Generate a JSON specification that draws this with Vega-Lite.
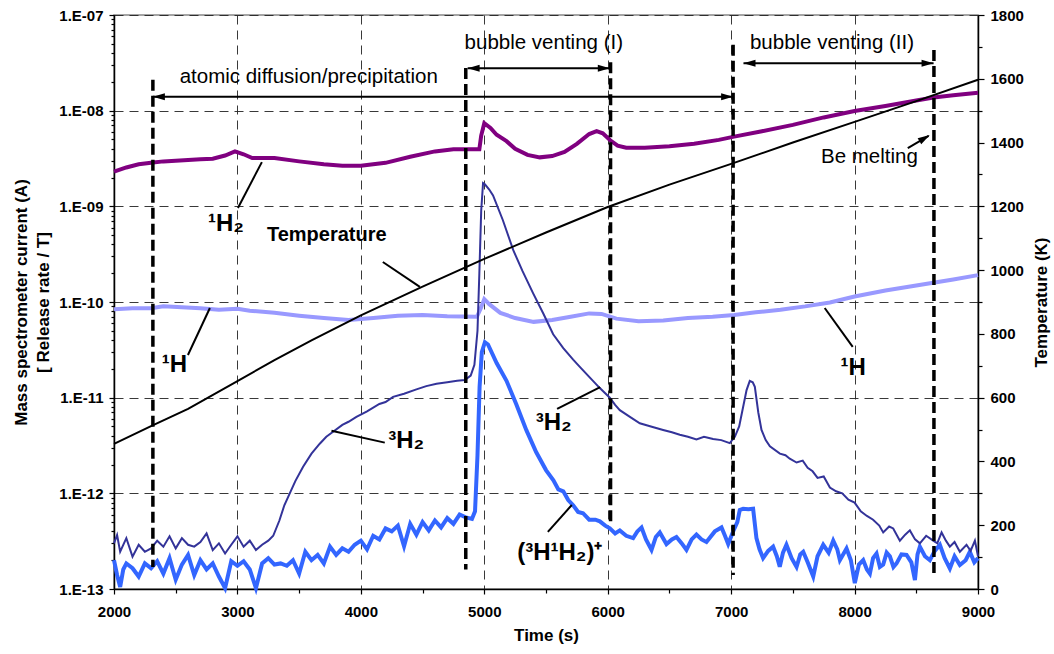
{
  "$schema": "https://vega.github.io/schema/vega-lite/v6.json",
  "width": 864,
  "height": 574,
  "autosize": "none",
  "padding": {"left": 114, "top": 15, "right": 76, "bottom": 65},
  "background": "white",
  "config": {
    "view": {"stroke": "#888888", "strokeWidth": 1.5},
    "font": "Liberation Sans",
    "axis": {
      "labelFont": "Liberation Sans", "labelFontWeight": "bold", "labelFontSize": 15, "labelColor": "#000000",
      "titleFont": "Liberation Sans", "titleFontWeight": "bold", "titleFontSize": 17, "titleColor": "#000000",
      "domainColor": "#000000", "domainWidth": 1.5, "tickColor": "#000000", "tickWidth": 1.2,
      "gridColor": "#222222", "gridDash": [9, 6], "gridWidth": 0.9
    }
  },
  "datasets": {
    "curves": [
      {"s":"H2","t":2000,"v":2.3e-9},{"s":"H2","t":2100,"v":2.55e-9},{"s":"H2","t":2200,"v":2.75e-9},{"s":"H2","t":2300,"v":2.85e-9},{"s":"H2","t":2400,"v":2.95e-9},{"s":"H2","t":2500,"v":3.0e-9},{"s":"H2","t":2600,"v":3.05e-9},{"s":"H2","t":2700,"v":3.1e-9},{"s":"H2","t":2800,"v":3.15e-9},{"s":"H2","t":2900,"v":3.4e-9},{"s":"H2","t":2980,"v":3.75e-9},{"s":"H2","t":3050,"v":3.5e-9},{"s":"H2","t":3120,"v":3.2e-9},{"s":"H2","t":3300,"v":3.2e-9},{"s":"H2","t":3500,"v":2.95e-9},{"s":"H2","t":3700,"v":2.75e-9},{"s":"H2","t":3850,"v":2.65e-9},{"s":"H2","t":4000,"v":2.65e-9},{"s":"H2","t":4200,"v":2.85e-9},{"s":"H2","t":4400,"v":3.3e-9},{"s":"H2","t":4600,"v":3.75e-9},{"s":"H2","t":4750,"v":3.95e-9},{"s":"H2","t":4960,"v":3.95e-9},{"s":"H2","t":4975,"v":5.5e-9},{"s":"H2","t":5000,"v":7.4e-9},{"s":"H2","t":5050,"v":6.6e-9},{"s":"H2","t":5100,"v":5.6e-9},{"s":"H2","t":5180,"v":4.8e-9},{"s":"H2","t":5250,"v":4.0e-9},{"s":"H2","t":5350,"v":3.45e-9},{"s":"H2","t":5450,"v":3.25e-9},{"s":"H2","t":5550,"v":3.35e-9},{"s":"H2","t":5650,"v":3.7e-9},{"s":"H2","t":5750,"v":4.5e-9},{"s":"H2","t":5850,"v":5.7e-9},{"s":"H2","t":5910,"v":6.1e-9},{"s":"H2","t":5960,"v":5.8e-9},{"s":"H2","t":6020,"v":4.9e-9},{"s":"H2","t":6080,"v":4.3e-9},{"s":"H2","t":6150,"v":4.1e-9},{"s":"H2","t":6300,"v":4.1e-9},{"s":"H2","t":6500,"v":4.25e-9},{"s":"H2","t":6700,"v":4.5e-9},{"s":"H2","t":6900,"v":4.95e-9},{"s":"H2","t":7024,"v":5.35e-9},{"s":"H2","t":7250,"v":6.1e-9},{"s":"H2","t":7500,"v":7.1e-9},{"s":"H2","t":7750,"v":8.5e-9},{"s":"H2","t":8000,"v":9.9e-9},{"s":"H2","t":8250,"v":1.12e-8},{"s":"H2","t":8500,"v":1.28e-8},{"s":"H2","t":8640,"v":1.37e-8},{"s":"H2","t":8800,"v":1.45e-8},{"s":"H2","t":9000,"v":1.54e-8},

      {"s":"H","t":2000,"v":8.4e-11},{"s":"H","t":2150,"v":8.6e-11},{"s":"H","t":2300,"v":8.6e-11},{"s":"H","t":2400,"v":9.0e-11},{"s":"H","t":2550,"v":8.8e-11},{"s":"H","t":2700,"v":8.6e-11},{"s":"H","t":2850,"v":8.3e-11},{"s":"H","t":3000,"v":8.5e-11},{"s":"H","t":3100,"v":8.1e-11},{"s":"H","t":3300,"v":7.7e-11},{"s":"H","t":3500,"v":7.2e-11},{"s":"H","t":3700,"v":6.8e-11},{"s":"H","t":3900,"v":6.5e-11},{"s":"H","t":4100,"v":6.8e-11},{"s":"H","t":4300,"v":7.2e-11},{"s":"H","t":4500,"v":7.3e-11},{"s":"H","t":4700,"v":7.1e-11},{"s":"H","t":4940,"v":7.0e-11},{"s":"H","t":4970,"v":8.5e-11},{"s":"H","t":5000,"v":1.07e-10},{"s":"H","t":5040,"v":9.5e-11},{"s":"H","t":5130,"v":7.7e-11},{"s":"H","t":5250,"v":6.8e-11},{"s":"H","t":5400,"v":6.2e-11},{"s":"H","t":5550,"v":6.5e-11},{"s":"H","t":5700,"v":7.0e-11},{"s":"H","t":5850,"v":7.6e-11},{"s":"H","t":5950,"v":7.5e-11},{"s":"H","t":6070,"v":6.7e-11},{"s":"H","t":6250,"v":6.3e-11},{"s":"H","t":6450,"v":6.4e-11},{"s":"H","t":6650,"v":6.8e-11},{"s":"H","t":6850,"v":7.0e-11},{"s":"H","t":7024,"v":7.3e-11},{"s":"H","t":7200,"v":7.8e-11},{"s":"H","t":7400,"v":8.3e-11},{"s":"H","t":7600,"v":9.0e-11},{"s":"H","t":7800,"v":9.9e-11},{"s":"H","t":8000,"v":1.14e-10},{"s":"H","t":8250,"v":1.32e-10},{"s":"H","t":8500,"v":1.49e-10},{"s":"H","t":8637,"v":1.59e-10},{"s":"H","t":8800,"v":1.72e-10},{"s":"H","t":9000,"v":1.91e-10},

      {"s":"T2","t":2000,"v":3.0e-13},{"s":"T2","t":2025,"v":3.67e-13},{"s":"T2","t":2050,"v":2.45e-13},{"s":"T2","t":2100,"v":3.4e-13},{"s":"T2","t":2150,"v":2.18e-13},{"s":"T2","t":2200,"v":2.9e-13},{"s":"T2","t":2250,"v":2.45e-13},{"s":"T2","t":2300,"v":2.66e-13},{"s":"T2","t":2350,"v":3.2e-13},{"s":"T2","t":2400,"v":2.77e-13},{"s":"T2","t":2450,"v":3.55e-13},{"s":"T2","t":2500,"v":2.66e-13},{"s":"T2","t":2550,"v":3.4e-13},{"s":"T2","t":2600,"v":2.9e-13},{"s":"T2","t":2650,"v":2.77e-13},{"s":"T2","t":2700,"v":3.1e-13},{"s":"T2","t":2750,"v":3.82e-13},{"s":"T2","t":2800,"v":2.55e-13},{"s":"T2","t":2850,"v":3.0e-13},{"s":"T2","t":2900,"v":2.35e-13},{"s":"T2","t":2950,"v":2.9e-13},{"s":"T2","t":3000,"v":3.55e-13},{"s":"T2","t":3050,"v":2.77e-13},{"s":"T2","t":3100,"v":3.2e-13},{"s":"T2","t":3150,"v":2.55e-13},{"s":"T2","t":3200,"v":2.9e-13},{"s":"T2","t":3250,"v":3.2e-13},{"s":"T2","t":3290,"v":3.6e-13},{"s":"T2","t":3340,"v":5.2e-13},{"s":"T2","t":3380,"v":7.5e-13},{"s":"T2","t":3424,"v":1.0e-12},{"s":"T2","t":3470,"v":1.35e-12},{"s":"T2","t":3532,"v":1.9e-12},{"s":"T2","t":3600,"v":2.6e-12},{"s":"T2","t":3667,"v":3.3e-12},{"s":"T2","t":3720,"v":3.9e-12},{"s":"T2","t":3775,"v":4.4e-12},{"s":"T2","t":3850,"v":5.2e-12},{"s":"T2","t":3900,"v":5.6e-12},{"s":"T2","t":3964,"v":6.3e-12},{"s":"T2","t":4050,"v":7.2e-12},{"s":"T2","t":4150,"v":8.6e-12},{"s":"T2","t":4200,"v":9.0e-12},{"s":"T2","t":4261,"v":1.02e-11},{"s":"T2","t":4350,"v":1.1e-11},{"s":"T2","t":4450,"v":1.22e-11},{"s":"T2","t":4530,"v":1.32e-11},{"s":"T2","t":4613,"v":1.4e-11},{"s":"T2","t":4700,"v":1.45e-11},{"s":"T2","t":4780,"v":1.5e-11},{"s":"T2","t":4842,"v":1.53e-11},{"s":"T2","t":4890,"v":1.7e-11},{"s":"T2","t":4920,"v":2.2e-11},{"s":"T2","t":4945,"v":5e-11},{"s":"T2","t":4960,"v":2.0e-10},{"s":"T2","t":4975,"v":9e-10},{"s":"T2","t":4990,"v":1.75e-9},{"s":"T2","t":5005,"v":1.7e-9},{"s":"T2","t":5040,"v":1.5e-9},{"s":"T2","t":5071,"v":1.3e-9},{"s":"T2","t":5150,"v":7.2e-10},{"s":"T2","t":5234,"v":3.5e-10},{"s":"T2","t":5310,"v":2.1e-10},{"s":"T2","t":5396,"v":1.23e-10},{"s":"T2","t":5480,"v":7.5e-11},{"s":"T2","t":5558,"v":4.6e-11},{"s":"T2","t":5640,"v":3.3e-11},{"s":"T2","t":5720,"v":2.5e-11},{"s":"T2","t":5774,"v":2.1e-11},{"s":"T2","t":5850,"v":1.65e-11},{"s":"T2","t":5936,"v":1.26e-11},{"s":"T2","t":6017,"v":1.0e-11},{"s":"T2","t":6060,"v":8.4e-12},{"s":"T2","t":6098,"v":7.4e-12},{"s":"T2","t":6180,"v":6.3e-12},{"s":"T2","t":6260,"v":5.4e-12},{"s":"T2","t":6350,"v":5.0e-12},{"s":"T2","t":6449,"v":4.6e-12},{"s":"T2","t":6520,"v":4.35e-12},{"s":"T2","t":6584,"v":4.1e-12},{"s":"T2","t":6650,"v":3.9e-12},{"s":"T2","t":6719,"v":3.65e-12},{"s":"T2","t":6780,"v":3.9e-12},{"s":"T2","t":6854,"v":3.7e-12},{"s":"T2","t":6920,"v":3.6e-12},{"s":"T2","t":6989,"v":3.35e-12},{"s":"T2","t":7030,"v":3.9e-12},{"s":"T2","t":7065,"v":5.0e-12},{"s":"T2","t":7097,"v":8.0e-12},{"s":"T2","t":7125,"v":1.2e-11},{"s":"T2","t":7151,"v":1.5e-11},{"s":"T2","t":7175,"v":1.45e-11},{"s":"T2","t":7192,"v":1.3e-11},{"s":"T2","t":7220,"v":7e-12},{"s":"T2","t":7246,"v":4.6e-12},{"s":"T2","t":7280,"v":3.6e-12},{"s":"T2","t":7314,"v":3.1e-12},{"s":"T2","t":7395,"v":2.6e-12},{"s":"T2","t":7440,"v":2.5e-12},{"s":"T2","t":7475,"v":2.3e-12},{"s":"T2","t":7530,"v":2.1e-12},{"s":"T2","t":7580,"v":2.2e-12},{"s":"T2","t":7620,"v":1.85e-12},{"s":"T2","t":7660,"v":1.7e-12},{"s":"T2","t":7700,"v":1.45e-12},{"s":"T2","t":7750,"v":1.5e-12},{"s":"T2","t":7800,"v":1.15e-12},{"s":"T2","t":7850,"v":1.05e-12},{"s":"T2","t":7900,"v":1.0e-12},{"s":"T2","t":7950,"v":8.6e-13},{"s":"T2","t":8000,"v":8.0e-13},{"s":"T2","t":8050,"v":6.5e-13},{"s":"T2","t":8100,"v":5.8e-13},{"s":"T2","t":8150,"v":5.3e-13},{"s":"T2","t":8200,"v":4.6e-13},{"s":"T2","t":8232,"v":3.9e-13},{"s":"T2","t":8280,"v":4.5e-13},{"s":"T2","t":8313,"v":4.3e-13},{"s":"T2","t":8367,"v":3.2e-13},{"s":"T2","t":8410,"v":3.7e-13},{"s":"T2","t":8448,"v":4.1e-13},{"s":"T2","t":8490,"v":3.3e-13},{"s":"T2","t":8529,"v":3.0e-13},{"s":"T2","t":8580,"v":3.6e-13},{"s":"T2","t":8637,"v":3.2e-13},{"s":"T2","t":8670,"v":3.0e-13},{"s":"T2","t":8705,"v":3.9e-13},{"s":"T2","t":8740,"v":3.2e-13},{"s":"T2","t":8772,"v":2.77e-13},{"s":"T2","t":8810,"v":3.1e-13},{"s":"T2","t":8853,"v":2.45e-13},{"s":"T2","t":8907,"v":2.9e-13},{"s":"T2","t":8940,"v":2.5e-13},{"s":"T2","t":8975,"v":3.2e-13},{"s":"T2","t":9000,"v":2.2e-13},

      {"s":"HT","t":2000,"v":2.0e-13},{"s":"HT","t":2025,"v":1.4e-13},{"s":"HT","t":2050,"v":1.05e-13},{"s":"HT","t":2075,"v":1.6e-13},{"s":"HT","t":2100,"v":1.85e-13},{"s":"HT","t":2150,"v":1.65e-13},{"s":"HT","t":2200,"v":1.35e-13},{"s":"HT","t":2250,"v":1.85e-13},{"s":"HT","t":2300,"v":1.65e-13},{"s":"HT","t":2350,"v":1.95e-13},{"s":"HT","t":2400,"v":1.45e-13},{"s":"HT","t":2450,"v":2.1e-13},{"s":"HT","t":2500,"v":1.25e-13},{"s":"HT","t":2550,"v":1.8e-13},{"s":"HT","t":2600,"v":2.27e-13},{"s":"HT","t":2650,"v":1.4e-13},{"s":"HT","t":2700,"v":2.0e-13},{"s":"HT","t":2750,"v":1.6e-13},{"s":"HT","t":2800,"v":1.85e-13},{"s":"HT","t":2850,"v":1.35e-13},{"s":"HT","t":2900,"v":1.02e-13},{"s":"HT","t":2950,"v":1.95e-13},{"s":"HT","t":3000,"v":1.75e-13},{"s":"HT","t":3050,"v":1.95e-13},{"s":"HT","t":3100,"v":1.6e-13},{"s":"HT","t":3150,"v":1.02e-13},{"s":"HT","t":3200,"v":1.85e-13},{"s":"HT","t":3250,"v":2.1e-13},{"s":"HT","t":3300,"v":1.8e-13},{"s":"HT","t":3350,"v":1.85e-13},{"s":"HT","t":3400,"v":1.75e-13},{"s":"HT","t":3450,"v":2.0e-13},{"s":"HT","t":3500,"v":1.45e-13},{"s":"HT","t":3550,"v":2.45e-13},{"s":"HT","t":3600,"v":2.0e-13},{"s":"HT","t":3650,"v":2.27e-13},{"s":"HT","t":3700,"v":1.85e-13},{"s":"HT","t":3750,"v":2.77e-13},{"s":"HT","t":3800,"v":2.27e-13},{"s":"HT","t":3850,"v":2.66e-13},{"s":"HT","t":3900,"v":2.45e-13},{"s":"HT","t":3950,"v":2.9e-13},{"s":"HT","t":4000,"v":3.2e-13},{"s":"HT","t":4050,"v":2.6e-13},{"s":"HT","t":4100,"v":3.6e-13},{"s":"HT","t":4150,"v":3.3e-13},{"s":"HT","t":4200,"v":4.3e-13},{"s":"HT","t":4250,"v":4.0e-13},{"s":"HT","t":4300,"v":4.6e-13},{"s":"HT","t":4350,"v":2.8e-13},{"s":"HT","t":4400,"v":4.8e-13},{"s":"HT","t":4450,"v":3.7e-13},{"s":"HT","t":4500,"v":5.0e-13},{"s":"HT","t":4550,"v":4.1e-13},{"s":"HT","t":4600,"v":5.2e-13},{"s":"HT","t":4650,"v":4.4e-13},{"s":"HT","t":4700,"v":5.5e-13},{"s":"HT","t":4750,"v":4.8e-13},{"s":"HT","t":4800,"v":6.0e-13},{"s":"HT","t":4850,"v":5.6e-13},{"s":"HT","t":4900,"v":5.4e-13},{"s":"HT","t":4925,"v":6.5e-13},{"s":"HT","t":4945,"v":2.5e-12},{"s":"HT","t":4962,"v":1.3e-11},{"s":"HT","t":4980,"v":3.0e-11},{"s":"HT","t":5005,"v":3.8e-11},{"s":"HT","t":5030,"v":3.6e-11},{"s":"HT","t":5100,"v":2.3e-11},{"s":"HT","t":5180,"v":1.5e-11},{"s":"HT","t":5260,"v":8.5e-12},{"s":"HT","t":5340,"v":4.6e-12},{"s":"HT","t":5420,"v":2.7e-12},{"s":"HT","t":5500,"v":1.75e-12},{"s":"HT","t":5560,"v":1.37e-12},{"s":"HT","t":5600,"v":1.1e-12},{"s":"HT","t":5640,"v":1.05e-12},{"s":"HT","t":5680,"v":8.5e-13},{"s":"HT","t":5720,"v":7.5e-13},{"s":"HT","t":5760,"v":6.4e-13},{"s":"HT","t":5800,"v":6.2e-13},{"s":"HT","t":5850,"v":5.3e-13},{"s":"HT","t":5900,"v":5.3e-13},{"s":"HT","t":5936,"v":5.1e-13},{"s":"HT","t":5980,"v":4.6e-13},{"s":"HT","t":6017,"v":4.3e-13},{"s":"HT","t":6060,"v":3.8e-13},{"s":"HT","t":6098,"v":4.1e-13},{"s":"HT","t":6150,"v":3.6e-13},{"s":"HT","t":6206,"v":3.4e-13},{"s":"HT","t":6240,"v":4.0e-13},{"s":"HT","t":6274,"v":4.4e-13},{"s":"HT","t":6310,"v":3.3e-13},{"s":"HT","t":6355,"v":2.56e-13},{"s":"HT","t":6390,"v":3.5e-13},{"s":"HT","t":6422,"v":3.9e-13},{"s":"HT","t":6476,"v":2.95e-13},{"s":"HT","t":6520,"v":3.3e-13},{"s":"HT","t":6557,"v":3.5e-13},{"s":"HT","t":6600,"v":3.0e-13},{"s":"HT","t":6638,"v":2.56e-13},{"s":"HT","t":6680,"v":3.3e-13},{"s":"HT","t":6719,"v":3.7e-13},{"s":"HT","t":6760,"v":3.3e-13},{"s":"HT","t":6800,"v":3.1e-13},{"s":"HT","t":6868,"v":4.0e-13},{"s":"HT","t":6922,"v":4.4e-13},{"s":"HT","t":6950,"v":3.6e-13},{"s":"HT","t":6976,"v":2.95e-13},{"s":"HT","t":7016,"v":4.0e-13},{"s":"HT","t":7050,"v":5.0e-13},{"s":"HT","t":7070,"v":6.7e-13},{"s":"HT","t":7097,"v":6.9e-13},{"s":"HT","t":7140,"v":6.8e-13},{"s":"HT","t":7178,"v":6.9e-13},{"s":"HT","t":7205,"v":3.4e-13},{"s":"HT","t":7230,"v":2.6e-13},{"s":"HT","t":7259,"v":2.1e-13},{"s":"HT","t":7300,"v":2.5e-13},{"s":"HT","t":7340,"v":2.77e-13},{"s":"HT","t":7370,"v":2.2e-13},{"s":"HT","t":7394,"v":1.71e-13},{"s":"HT","t":7420,"v":2.4e-13},{"s":"HT","t":7448,"v":2.9e-13},{"s":"HT","t":7490,"v":2.1e-13},{"s":"HT","t":7530,"v":1.7e-13},{"s":"HT","t":7560,"v":2.3e-13},{"s":"HT","t":7584,"v":2.45e-13},{"s":"HT","t":7620,"v":1.9e-13},{"s":"HT","t":7665,"v":1.35e-13},{"s":"HT","t":7700,"v":2.2e-13},{"s":"HT","t":7746,"v":2.9e-13},{"s":"HT","t":7790,"v":2.4e-13},{"s":"HT","t":7827,"v":3.2e-13},{"s":"HT","t":7860,"v":2.6e-13},{"s":"HT","t":7881,"v":2.0e-13},{"s":"HT","t":7935,"v":2.65e-13},{"s":"HT","t":7970,"v":2.0e-13},{"s":"HT","t":8002,"v":1.15e-13},{"s":"HT","t":8035,"v":1.8e-13},{"s":"HT","t":8070,"v":2.0e-13},{"s":"HT","t":8100,"v":1.6e-13},{"s":"HT","t":8124,"v":1.45e-13},{"s":"HT","t":8150,"v":2.1e-13},{"s":"HT","t":8178,"v":2.35e-13},{"s":"HT","t":8205,"v":1.7e-13},{"s":"HT","t":8232,"v":1.8e-13},{"s":"HT","t":8260,"v":2.4e-13},{"s":"HT","t":8286,"v":2.2e-13},{"s":"HT","t":8315,"v":1.7e-13},{"s":"HT","t":8340,"v":1.85e-13},{"s":"HT","t":8380,"v":2.3e-13},{"s":"HT","t":8421,"v":2.27e-13},{"s":"HT","t":8460,"v":1.9e-13},{"s":"HT","t":8489,"v":1.24e-13},{"s":"HT","t":8510,"v":2.3e-13},{"s":"HT","t":8529,"v":2.77e-13},{"s":"HT","t":8570,"v":2.2e-13},{"s":"HT","t":8610,"v":2.0e-13},{"s":"HT","t":8650,"v":2.5e-13},{"s":"HT","t":8691,"v":2.9e-13},{"s":"HT","t":8730,"v":2.1e-13},{"s":"HT","t":8772,"v":1.64e-13},{"s":"HT","t":8810,"v":2.2e-13},{"s":"HT","t":8853,"v":1.78e-13},{"s":"HT","t":8900,"v":2.0e-13},{"s":"HT","t":8934,"v":2.45e-13},{"s":"HT","t":8970,"v":1.9e-13},{"s":"HT","t":9000,"v":2.1e-13}
    ],
    "temp": [
      {"t":2000,"T":455},{"t":2300,"T":511},{"t":2600,"T":565},{"t":3000,"T":652},{"t":3300,"T":718},{"t":3600,"T":780},{"t":4000,"T":858},{"t":4500,"T":948},{"t":5000,"T":1035},{"t":5500,"T":1118},{"t":6000,"T":1198},{"t":6500,"T":1268},{"t":7000,"T":1333},{"t":7500,"T":1400},{"t":8000,"T":1465},{"t":8500,"T":1530},{"t":9000,"T":1597}
    ]
  },
  "encoding": {
    "x": {
      "field": "t", "type": "quantitative",
      "scale": {"domain": [2000, 9000], "nice": false, "zero": false},
      "axis": {
        "title": "Time (s)", "format": "d",
        "values": [2000,2500,3000,3500,4000,4500,5000,5500,6000,6500,7000,7500,8000,8500,9000],
        "labelExpr": "datum.value % 1000 === 0 ? datum.label : ''",
        "grid": true,
        "gridOpacity": {"condition": {"test": "datum.value % 1000 === 0", "value": 1}, "value": 0},
        "tickSize": {"condition": {"test": "datum.value % 1000 === 0", "value": 5}, "value": 4},
        "labelPadding": 10, "titlePadding": 8, "labelFlush": false
      }
    }
  },
  "layer": [
    {
      "encoding": {
        "y": {
          "field": "v", "type": "quantitative",
          "scale": {"type": "log", "domain": [1e-13, 1e-7], "nice": false},
          "axis": {
            "title": ["Mass spectrometer current (A)", "[ Release rate / T]"],
            "titleLineHeight": 22,
            "values": [1e-13,2e-13,3e-13,4e-13,5e-13,6e-13,7e-13,8e-13,9e-13,1e-12,2e-12,3e-12,4e-12,5e-12,6e-12,7e-12,8e-12,9e-12,1e-11,2e-11,3e-11,4e-11,5e-11,6e-11,7e-11,8e-11,9e-11,1e-10,2e-10,3e-10,4e-10,5e-10,6e-10,7e-10,8e-10,9e-10,1e-9,2e-9,3e-9,4e-9,5e-9,6e-9,7e-9,8e-9,9e-9,1e-8,2e-8,3e-8,4e-8,5e-8,6e-8,7e-8,8e-8,9e-8,1e-7],
            "labelExpr": "abs(log(datum.value)/LN10 - round(log(datum.value)/LN10)) < 0.001 ? '1.E-' + (round(-log(datum.value)/LN10) < 10 ? '0' : '') + round(-log(datum.value)/LN10) : ''",
            "grid": true,
            "gridOpacity": {"condition": {"test": "abs(log(datum.value)/LN10 - round(log(datum.value)/LN10)) < 0.001", "value": 1}, "value": 0},
            "tickSize": {"condition": {"test": "abs(log(datum.value)/LN10 - round(log(datum.value)/LN10)) < 0.001", "value": 5}, "value": 3},
            "labelPadding": 6, "titlePadding": 6
          }
        }
      },
      "layer": [
        {"data": {"name": "curves"}, "transform": [{"filter": "datum.s === 'H2'"}], "mark": {"type": "line", "color": "#800080", "strokeWidth": 4}},
        {"data": {"name": "curves"}, "transform": [{"filter": "datum.s === 'H'"}], "mark": {"type": "line", "color": "#9999FF", "strokeWidth": 4}},
        {"data": {"name": "curves"}, "transform": [{"filter": "datum.s === 'HT'"}], "mark": {"type": "line", "color": "#3366FF", "strokeWidth": 4}},
        {"data": {"name": "curves"}, "transform": [{"filter": "datum.s === 'T2'"}], "mark": {"type": "line", "color": "#333399", "strokeWidth": 2}},
        {
          "data": {"values": [{"t":2315,"v":2.1e-8,"v2":1.7e-13},{"t":4850,"v":2.8e-8,"v2":1.6e-13},{"t":6023,"v":3.2e-8,"v2":4.7e-13},{"t":7016,"v":4.9e-8,"v2":1.4e-13},{"t":8643,"v":4.3e-8,"v2":1.35e-13}]},
          "mark": {"type": "rule", "color": "#000000", "strokeWidth": 3.5, "strokeDash": [11, 5]},
          "encoding": {"y2": {"field": "v2"}}
        },
        {
          "data": {"values": [{"t":2315,"t2":7016,"v":1.4e-8,"v2":1.4e-8},{"t":4865,"t2":6017,"v":2.77e-8,"v2":2.77e-8},{"t":7100,"t2":8640,"v":3.13e-8,"v2":3.13e-8},
            {"t":3004,"t2":3198,"v":9.6e-10,"v2":2.9e-9},{"t":4178,"t2":4478,"v":2.62e-10,"v2":1.44e-10},{"t":2599,"t2":2777,"v":2.79e-11,"v2":8.65e-11},{"t":3762,"t2":4194,"v":4.52e-12,"v2":3.39e-12},{"t":5590,"t2":5939,"v":7.62e-12,"v2":1.29e-11},{"t":5515,"t2":5709,"v":3.95e-13,"v2":7.55e-13},{"t":7985,"t2":7758,"v":3.39e-11,"v2":8.65e-11},{"t":8431,"t2":8600,"v":4.07e-9,"v2":5.45e-9}]},
          "mark": {"type": "rule", "color": "#000000", "strokeWidth": 2},
          "encoding": {"x2": {"field": "t2"}, "y2": {"field": "v2"}}
        },
        {
          "data": {"values": [{"t":2315,"v":1.4e-8},{"t":4865,"v":2.77e-8},{"t":7100,"v":3.13e-8}]},
          "mark": {"type": "point", "shape": "M0,0 L2.4,-0.7 L2.4,0.7 Z", "filled": true, "color": "#000000", "size": 100, "opacity": 1}
        },
        {
          "data": {"values": [{"t":7016,"v":1.4e-8},{"t":6017,"v":2.77e-8},{"t":8640,"v":3.13e-8}]},
          "mark": {"type": "point", "shape": "M0,0 L-2.4,-0.7 L-2.4,0.7 Z", "filled": true, "color": "#000000", "size": 100, "opacity": 1}
        },
        {
          "data": {"values": [{"t":8609,"v":5.57e-9}]},
          "mark": {"type": "point", "shape": "M0,0 L-2.4,-0.7 L-2.4,0.7 Z", "filled": true, "color": "#000000", "size": 100, "opacity": 1, "angle": -31}
        },
        {
          "data": {"values": [{"t":3578,"v":2.25e-8,"label":"atomic diffusion/precipitation"},{"t":5482,"v":5.1e-8,"label":"bubble venting (I)"},{"t":7817,"v":5.1e-8,"label":"bubble venting (II)"},{"t":8120,"v":3.28e-9,"label":"Be melting"}]},
          "mark": {"type": "text", "font": "Liberation Sans", "fontSize": 20.5, "color": "#000000", "align": "center", "baseline": "middle"},
          "encoding": {"text": {"field": "label"}}
        },
        {
          "data": {"values": [{"t":2907,"v":6.5e-10,"label":"¹H₂"},{"t":2489,"v":2.22e-11,"label":"¹H"},{"t":4368,"v":3.52e-12,"label":"³H₂"},{"t":5563,"v":5.37e-12,"label":"³H₂"},{"t":5612,"v":2.38e-13,"label":"(³H¹H₂)⁺"},{"t":7989,"v":2.04e-11,"label":"¹H"}]},
          "mark": {"type": "text", "font": "Liberation Sans", "fontSize": 24, "fontWeight": "bold", "color": "#000000", "align": "center", "baseline": "middle"},
          "encoding": {"text": {"field": "label"}}
        },
        {
          "data": {"values": [{"t":3724,"v":5.0e-10,"label":"Temperature"}]},
          "mark": {"type": "text", "font": "Liberation Sans", "fontSize": 20, "fontWeight": "bold", "color": "#000000", "align": "center", "baseline": "middle"},
          "encoding": {"text": {"field": "label"}}
        }
      ]
    },
    {
      "data": {"name": "temp"},
      "mark": {"type": "line", "color": "#000000", "strokeWidth": 2},
      "encoding": {
        "y": {
          "field": "T", "type": "quantitative",
          "scale": {"domain": [0, 1800], "nice": false, "zero": true},
          "axis": {
            "orient": "right", "title": "Temperature (K)", "titleAngle": -90, "titleBaseline": "top", "format": "d",
            "values": [0,100,200,300,400,500,600,700,800,900,1000,1100,1200,1300,1400,1500,1600,1700,1800],
            "labelExpr": "datum.value % 200 === 0 ? datum.label : ''",
            "grid": false,
            "tickSize": {"condition": {"test": "datum.value % 200 === 0", "value": 6}, "value": 4},
            "labelPadding": 6, "titlePadding": 10
          }
        }
      }
    }
  ],
  "resolve": {"scale": {"y": "independent"}, "axis": {"y": "independent"}}
}
